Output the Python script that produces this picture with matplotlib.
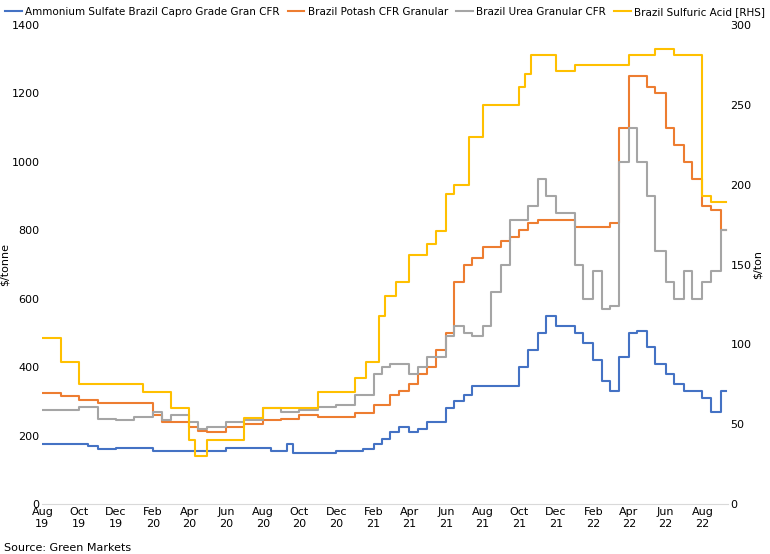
import matplotlib
matplotlib.use("Agg")
import matplotlib.pyplot as plt
import pandas as pd

as_dates = ["2019-08-01","2019-10-15","2019-11-01","2019-12-01","2020-02-01","2020-06-01","2020-08-15","2020-09-10","2020-09-20","2020-12-01","2021-01-15","2021-02-01","2021-02-15","2021-03-01","2021-03-15","2021-04-01","2021-04-15","2021-05-01","2021-06-01","2021-06-15","2021-07-01","2021-07-15","2021-10-01","2021-10-15","2021-11-01","2021-11-15","2021-12-01","2022-01-01","2022-01-15","2022-02-01","2022-02-15","2022-03-01","2022-03-15","2022-04-01","2022-04-15","2022-05-01","2022-05-15","2022-06-01","2022-06-15","2022-07-01","2022-08-01","2022-08-15","2022-09-01","2022-09-10"]
as_vals = [175,170,160,165,155,165,155,175,150,155,160,175,190,210,225,210,220,240,280,300,320,345,400,450,500,550,520,500,470,420,360,330,430,500,505,460,410,380,350,330,310,270,330,330]

pot_dates = ["2019-08-01","2019-09-01","2019-10-01","2019-11-01","2020-02-01","2020-02-15","2020-03-15","2020-04-01","2020-04-15","2020-05-01","2020-06-01","2020-07-01","2020-08-01","2020-09-01","2020-10-01","2020-11-01","2021-01-01","2021-02-01","2021-03-01","2021-03-15","2021-04-01","2021-04-15","2021-05-01","2021-05-15","2021-06-01","2021-06-15","2021-07-01","2021-07-15","2021-08-01","2021-09-01","2021-09-15","2021-10-01","2021-10-15","2021-11-01","2022-01-01","2022-03-01","2022-03-15","2022-04-01","2022-05-01","2022-05-15","2022-06-01","2022-06-15","2022-07-01","2022-07-15","2022-08-01","2022-08-15","2022-09-01","2022-09-10"]
pot_vals = [325,315,305,295,260,240,240,225,215,210,225,235,245,250,260,255,265,290,320,330,350,380,400,450,500,650,700,720,750,770,780,800,820,830,810,820,1100,1250,1220,1200,1100,1050,1000,950,870,860,800,800]

urea_dates = ["2019-08-01","2019-10-01","2019-11-01","2019-12-01","2020-01-01","2020-02-01","2020-02-15","2020-03-01","2020-04-01","2020-04-15","2020-05-01","2020-06-01","2020-07-01","2020-08-01","2020-09-01","2020-10-01","2020-11-01","2020-12-01","2021-01-01","2021-02-01","2021-02-15","2021-03-01","2021-04-01","2021-04-15","2021-05-01","2021-06-01","2021-06-15","2021-07-01","2021-07-15","2021-08-01","2021-08-15","2021-09-01","2021-09-15","2021-10-01","2021-10-15","2021-11-01","2021-11-15","2021-12-01","2022-01-01","2022-01-15","2022-02-01","2022-02-15","2022-03-01","2022-03-15","2022-04-01","2022-04-15","2022-05-01","2022-05-15","2022-06-01","2022-06-15","2022-07-01","2022-07-15","2022-08-01","2022-08-15","2022-09-01","2022-09-10"]
urea_vals = [275,285,250,245,255,270,245,260,240,220,225,240,245,280,270,275,285,290,320,380,400,410,380,400,430,490,520,500,490,520,620,700,830,830,870,950,900,850,700,600,680,570,580,1000,1100,1000,900,740,650,600,680,600,650,680,800,800]

sa_dates = ["2019-08-01","2019-09-01","2019-10-01","2020-01-15","2020-03-01","2020-04-01","2020-04-10","2020-05-01","2020-07-01","2020-08-01","2020-11-01","2021-01-01","2021-01-20","2021-02-10","2021-02-20","2021-03-10","2021-04-01","2021-05-01","2021-05-15","2021-06-01","2021-06-15","2021-07-10","2021-08-01","2021-10-01","2021-10-10","2021-10-20","2021-12-01","2022-01-01","2022-04-01","2022-05-15","2022-06-15","2022-08-01","2022-08-15","2022-09-10"]
sa_vals = [104,89,75,70,60,40,30,40,54,60,70,79,89,118,130,139,156,163,171,194,200,230,250,261,269,281,271,275,281,285,281,193,189,189]

series = [
    ("Ammonium Sulfate Brazil Capro Grade Gran CFR", as_dates, as_vals, "#4472C4"),
    ("Brazil Potash CFR Granular", pot_dates, pot_vals, "#ED7D31"),
    ("Brazil Urea Granular CFR", urea_dates, urea_vals, "#A5A5A5"),
]

fig, ax = plt.subplots(figsize=(7.7, 5.54), dpi=100)
fig.subplots_adjust(left=0.055, right=0.945, top=0.955, bottom=0.09)
handles = []
for name, d, v, c in series:
    h, = ax.plot(pd.to_datetime(d), v, drawstyle="steps-post", color=c, lw=1.5, label=name)
    handles.append(h)
ax2 = ax.twinx()
h, = ax2.plot(pd.to_datetime(sa_dates), sa_vals, drawstyle="steps-post", color="#FFC000", lw=1.5, label="Brazil Sulfuric Acid [RHS]")
handles.append(h)

ax.set_ylim(0, 1400); ax.set_yticks(range(0, 1401, 200))
ax2.set_ylim(0, 300); ax2.set_yticks(range(0, 301, 50))
ax.set_xlim(pd.Timestamp("2019-08-01"), pd.Timestamp("2022-09-12"))
ticks = pd.date_range("2019-08-01", "2022-08-01", freq="2MS")
ax.set_xticks(ticks)
ax.set_xticklabels([t.strftime("%b\n%y") for t in ticks])
ax.set_ylabel("$/tonne", fontsize=8, labelpad=1)
ax2.set_ylabel("$/ton", fontsize=8, labelpad=1)
for a in (ax, ax2):
    a.tick_params(labelsize=8, length=0, pad=2)
    for s in a.spines.values():
        s.set_visible(False)
ax.spines["bottom"].set_visible(True); ax.spines["bottom"].set_color("#D9D9D9")
fig.legend(handles=handles, loc="upper center", ncol=4, frameon=False, fontsize=7.5,
           bbox_to_anchor=(0.5, 1.005), handlelength=1.6, columnspacing=0.8, handletextpad=0.3)
fig.text(0.005, 0.005, "Source: Green Markets", fontsize=8)
fig.savefig("out.png")
